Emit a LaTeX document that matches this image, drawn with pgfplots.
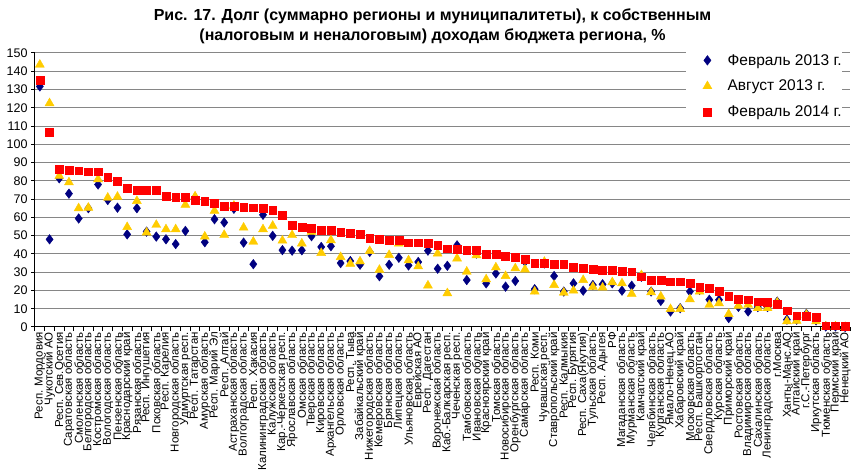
\documentclass[border=0pt]{standalone}
\usepackage{fontspec}
\setmainfont{Liberation Sans}
\usepackage{pgfplots}
\pgfplotsset{compat=1.18}
\usepackage{pgfplotstable}
\definecolor{cDia}{RGB}{0,0,128}
\definecolor{cTri}{RGB}{255,204,0}
\definecolor{cSq}{RGB}{255,0,0}
\definecolor{cGrid}{RGB}{134,134,134}
\pgfplotstableread{
x dia tri sq
1 131.7 143.6 135.2
2 48.0 122.5 106.5
3 81.4 82.7 86.5
4 73.0 79.2 86.0
5 59.4 65.0 85.6
6 65.0 65.3 85.0
7 78.0 80.9 85.0
8 69.5 70.8 81.8
9 65.3 71.3 79.9
10 50.7 54.7 76.0
11 65.0 69.0 75.0
12 52.2 51.7 74.9
13 49.5 55.9 74.9
14 48.0 53.5 71.5
15 45.4 53.5 71.0
16 52.6 66.9 71.0
17 70.8 71.5 69.5
18 46.4 49.5 68.9
19 59.0 63.6 67.8
20 57.2 50.4 66.2
21 64.7 66.4 66.2
22 46.2 54.4 65.7
23 34.4 46.7 65.3
24 61.4 53.5 65.0
25 49.9 55.4 63.8
26 42.1 47.3 61.1
27 41.8 50.3 55.8
28 42.0 45.7 54.5
29 49.7 52.1 54.0
30 43.8 40.5 53.0
31 44.2 47.5 53.0
32 35.0 38.3 52.1
33 36.1 34.6 51.5
34 34.1 35.9 50.7
35 41.1 41.6 48.6
36 27.8 31.3 48.0
37 34.1 39.4 47.4
38 37.9 45.7 47.6
39 33.7 36.5 46.1
40 35.6 33.2 46.1
41 41.8 22.7 45.7
42 31.9 40.2 44.6
43 33.5 18.5 42.9
44 44.7 37.5 42.4
45 25.7 30.3 42.0
46 40.2 39.3 42.0
47 23.9 26.1 39.9
48 29.3 32.6 39.9
49 22.1 27.9 38.8
50 25.2 32.1 38.2
51 35.7 31.5 37.1
52 20.7 19.4 35.1
53 34.8 35.7 35.1
54 27.9 23.0 34.2
55 19.4 18.8 34.2
56 23.9 19.9 32.6
57 19.9 25.7 32.1
58 23.0 22.0 31.5
59 23.4 21.6 31.0
60 23.9 24.5 31.0
61 19.9 23.9 30.6
62 22.6 18.1 30.3
63 27.5 28.4 27.5
64 19.4 19.0 25.7
65 14.3 16.7 25.7
66 8.5 9.8 24.8
67 10.3 9.8 24.8
68 19.4 15.2 24.1
69 20.3 19.4 21.7
70 14.9 12.1 21.2
71 14.9 13.0 19.4
72 4.9 7.1 17.0
73 11.0 11.6 15.4
74 8.5 12.1 14.9
75 10.9 10.3 13.9
76 10.9 10.3 13.4
77 13.9 13.4 12.7
78 4.0 3.1 8.9
79 4.0 3.4 6.2
80 7.2 6.7 5.8
81 3.6 3.1 5.3
82 0.3 0.3 0.7
83 0.3 0.3 0.7
84 0.0 0.0 0.4
}\data
\begin{document}
\begin{tikzpicture}[x=1pt,y=1pt]
\path[use as bounding box] (0,0) rectangle (854,471);
\node[font=\bfseries\fontsize{16}{20}\selectfont, align=center] at (432.5,445)
  {Рис. 17. Долг (суммарно регионы и муниципалитеты), к собственным\\(налоговым и неналоговым) доходам бюджета региона, \%};
\begin{axis}[
  at={(35pt,144pt)}, anchor=south west,
  scale only axis, width=815pt, height=274pt,
  xmin=0.5, xmax=84.5, ymin=0, ymax=150,
  ytick={0,10,...,150},
  ymajorgrids, grid style={cGrid, line width=1pt},
  axis x line*=bottom, axis y line*=left,
  axis line style={black, line width=1pt, -},
  tick align=outside, major tick length=4pt, minor tick length=4pt,
  xtick={1,...,84},
  xticklabels={{Респ. Мордовия},{Чукотский АО},{Респ. Сев.Осетия},{Саратовская область},{Смоленская область},{Белгородская область},{Костромская область},{Вологодская область},{Пензенская область},{Краснодарский край},{Рязанская область},{Респ. Ингушетия},{Псковская область},{Респ. Карелия},{Новгородская область},{Удмуртская респ.},{Респ. Татарстан},{Амурская область},{Респ. Марий Эл},{Респ. Алтай},{Астраханская область},{Волгоградская область},{Респ. Хакасия},{Калининградская область},{Калужская область},{Кар.-Черкесская респ.},{Ярославская область},{Омская область},{Тверская область},{Кировская область},{Архангельская область},{Орловская область},{Респ. Тыва},{Забайкальский край},{Нижегородская область},{Кемеровская область},{Брянская область},{Липецкая область},{Ульяновская область},{Еврейская АО},{Респ. Дагестан},{Воронежская область},{Каб.-Балкарская респ.},{Чеченская респ.},{Тамбовская область},{Ивановская область},{Красноярский край},{Томская область},{Новосибирская область},{Оренбургская область},{Самарская область},{Респ. Коми},{Чувашская респ.},{Ставропольский край},{Респ. Калмыкия},{Респ. Бурятия},{Респ. Саха(Якутия)},{Тульская область},{Респ. Адыгея},{РФ},{Магаданская область},{Мурманская область},{Камчатский край},{Челябинская область},{Курганская область},{Ямало-Ненец.АО},{Хабаровский край},{Московская область},{Респ. Башкортостан},{Свердловская область},{Курская область},{Приморский край},{Ростовская область},{Владимирская область},{Сахалинская область},{Ленинградская область},{г.Москва},{Ханты-Манс.АО},{Алтайский край},{г.С.-Петербург},{Иркутская область},{Тюменская область},{Пермский край},{Ненецкий АО}},
  every major x tick/.append style={draw=none},
  minor xtick={0.5,1.5,...,84.5},
  every minor x tick/.append style={black, line width=1pt},
  every y tick/.append style={black, line width=1pt},
  xticklabel style={rotate=90, anchor=east, font=\fontsize{11.5}{12}\selectfont, inner sep=1pt},
  yticklabel style={font=\fontsize{12.5}{14}\selectfont},
  /pgf/number format/assume math mode=true,
  legend style={at={(0.7988,1.0146)}, anchor=north west, draw=none, fill=white,
    font=\fontsize{15.5}{17}\selectfont, row sep=13.5pt, inner xsep=0pt, inner ysep=5pt,
    nodes={inner sep=0pt},
    /tikz/every odd column/.append style={column sep=10pt}},
  legend cell align=left,
  legend image code/.code={\path (-21pt,0pt) (10pt,0pt); \draw[#1] plot coordinates {(0pt,0pt)};},
  clip=false,
]
\addplot[only marks, mark=diamond*, mark size=4.8pt, color=cDia, mark options={fill=cDia, draw=none}] table[x=x,y=dia]{\data};
\addlegendentry{Февраль 2013 г.}
\addplot[only marks, mark=triangle*, mark size=5.2pt, color=cTri, mark options={fill=cTri, draw=none}] table[x=x,y=tri]{\data};
\addlegendentry{Август 2013 г.}
\addplot[only marks, mark=square*, mark size=3.9pt, color=cSq, mark options={fill=cSq, draw=none}] table[x=x,y=sq]{\data};
\addlegendentry{Февраль 2014 г.}
\end{axis}
\end{tikzpicture}
\end{document}
